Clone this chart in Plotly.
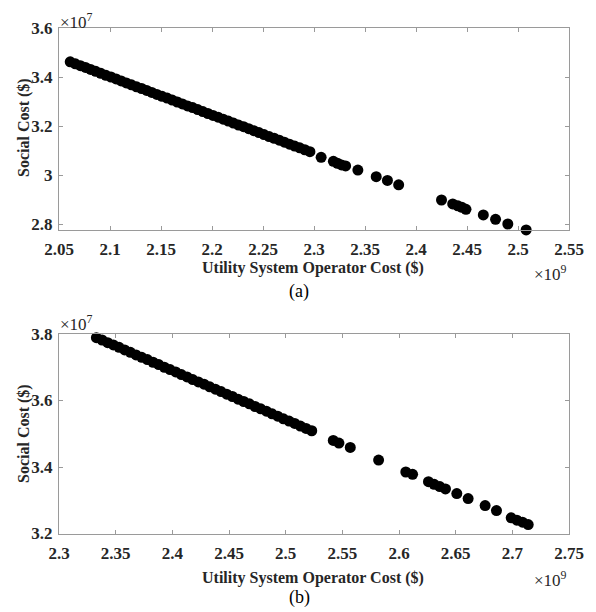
import plotly.graph_objects as go

# ---- Data (x in units of 1e9 $, y in units of 1e7 $) ----
# Panel (a)
a_x = [2.061, 2.066, 2.071, 2.076, 2.081, 2.086, 2.091, 2.096, 2.101, 2.106,
       2.111, 2.116, 2.121, 2.126, 2.131, 2.136, 2.141, 2.146, 2.151, 2.156,
       2.161, 2.166, 2.171, 2.176, 2.181, 2.186, 2.191, 2.196, 2.201, 2.206,
       2.211, 2.216, 2.221, 2.226, 2.231, 2.236, 2.241, 2.246, 2.251, 2.256,
       2.261, 2.266, 2.271, 2.276, 2.281, 2.286, 2.291, 2.296,
       2.307, 2.319, 2.323, 2.327, 2.331, 2.343, 2.361, 2.372, 2.383,
       2.425, 2.436, 2.441, 2.445, 2.449, 2.466, 2.478, 2.490, 2.508]
a_y = [3.462, 3.454, 3.446, 3.439, 3.431, 3.423, 3.415, 3.407, 3.400, 3.392,
       3.384, 3.376, 3.368, 3.360, 3.353, 3.345, 3.337, 3.329, 3.321, 3.314,
       3.306, 3.298, 3.290, 3.282, 3.275, 3.267, 3.259, 3.251, 3.243, 3.236,
       3.228, 3.220, 3.212, 3.204, 3.197, 3.189, 3.181, 3.173, 3.165, 3.157,
       3.150, 3.142, 3.134, 3.126, 3.118, 3.111, 3.103, 3.095,
       3.072, 3.056, 3.048, 3.041, 3.037, 3.020, 2.993, 2.978, 2.960,
       2.898, 2.882, 2.874, 2.868, 2.860, 2.837, 2.819, 2.800, 2.776]

# Panel (b)
b_x = [2.333, 2.338, 2.343, 2.348, 2.353, 2.358, 2.363, 2.368, 2.373, 2.378,
       2.383, 2.388, 2.393, 2.398, 2.403, 2.408, 2.413, 2.418, 2.423, 2.428,
       2.433, 2.438, 2.443, 2.448, 2.453, 2.458, 2.463, 2.468, 2.473, 2.478,
       2.483, 2.488, 2.493, 2.498, 2.503, 2.508, 2.513, 2.518, 2.523,
       2.542, 2.547, 2.557, 2.582, 2.606, 2.612, 2.626, 2.631, 2.636, 2.641,
       2.651, 2.661, 2.676, 2.686, 2.699, 2.704, 2.709, 2.714]
b_y = [3.789, 3.782, 3.774, 3.767, 3.760, 3.752, 3.745, 3.737, 3.730, 3.723,
       3.715, 3.708, 3.700, 3.693, 3.686, 3.678, 3.671, 3.663, 3.656, 3.649,
       3.641, 3.634, 3.627, 3.619, 3.612, 3.604, 3.597, 3.590, 3.582, 3.575,
       3.568, 3.560, 3.553, 3.545, 3.538, 3.531, 3.523, 3.516, 3.509,
       3.480, 3.472, 3.459, 3.421, 3.385, 3.378, 3.356, 3.348, 3.341, 3.334,
       3.320, 3.305, 3.284, 3.269, 3.247, 3.240, 3.234, 3.227]

a_xticks = [2.05, 2.1, 2.15, 2.2, 2.25, 2.3, 2.35, 2.4, 2.45, 2.5, 2.55]
a_xlabels = ["2.05", "2.1", "2.15", "2.2", "2.25", "2.3", "2.35", "2.4", "2.45", "2.5", "2.55"]
a_yticks = [2.8, 3.0, 3.2, 3.4, 3.6]
a_ylabels = ["2.8", "3", "3.2", "3.4", "3.6"]
b_xticks = [2.3, 2.35, 2.4, 2.45, 2.5, 2.55, 2.6, 2.65, 2.7, 2.75]
b_xlabels = ["2.3", "2.35", "2.4", "2.45", "2.5", "2.55", "2.6", "2.65", "2.7", "2.75"]
b_yticks = [3.2, 3.4, 3.6, 3.8]
b_ylabels = ["3.2", "3.4", "3.6", "3.8"]

x_title = "Utility System Operator Cost ($)"
y_title = "Social Cost ($)"

# page body has an 8px margin, so the figure is drawn 8px in from the top-left
OFF = 8
W, H = 596 - OFF, 612 - OFF
SERIF = "Liberation Serif, Times New Roman, serif"

fig = go.Figure()
fig.add_trace(go.Scatter(x=a_x, y=a_y, mode="markers", xaxis="x", yaxis="y",
                         marker=dict(color="black", size=11), cliponaxis=False,
                         showlegend=False))
fig.add_trace(go.Scatter(x=b_x, y=b_y, mode="markers", xaxis="x2", yaxis="y2",
                         marker=dict(color="black", size=11), cliponaxis=False,
                         showlegend=False))

def px(v):
    return (v - OFF) / W

def py(v):
    return 1 - (v - OFF) / H

axis_common = dict(
    showline=True, linecolor="#9a9a9a", linewidth=1, mirror="ticks",
    ticks="inside", ticklen=4, tickcolor="#9a9a9a", showgrid=False, zeroline=False,
    automargin=False,
    tickfont=dict(family=SERIF, size=17, color="#262626", weight="bold"),
)

fig.update_layout(
    template="none",
    width=W, height=H, paper_bgcolor="white", plot_bgcolor="white",
    margin=dict(l=0, r=0, t=0, b=0, pad=0),
    xaxis=dict(domain=[px(59), px(569)], range=[2.05, 2.55], anchor="y",
               tickvals=a_xticks, ticktext=a_xlabels, ticklabelstandoff=4, **axis_common),
    yaxis=dict(domain=[py(230), py(28)], range=[2.7755, 3.6], anchor="x",
               tickvals=a_yticks, ticktext=a_ylabels, ticklabelstandoff=2, **axis_common),
    xaxis2=dict(domain=[px(59), px(569)], range=[2.3, 2.75], anchor="y2",
                tickvals=b_xticks, ticktext=b_xlabels, ticklabelstandoff=4, **axis_common),
    yaxis2=dict(domain=[py(533.5), py(334)], range=[3.2, 3.8], anchor="x2",
                tickvals=b_yticks, ticktext=b_ylabels, ticklabelstandoff=2, **axis_common),
)

ann_font_b = dict(family=SERIF, size=16, color="#262626", weight="bold")
ann_font = dict(family=SERIF, size=17, color="#262626")
anns = []
for ytitle_c, xtitle_c, mult_top, mult_bot, cap_y, cap in [
        (128, 268, 21, 273, 291, "(a)"),
        (434, 578, 323, 579, 597, "(b)")]:
    anns.append(dict(text=x_title, x=px(313), y=py(xtitle_c), xref="paper", yref="paper",
                     showarrow=False, font=ann_font_b, xanchor="center", yanchor="middle"))
    anns.append(dict(text=y_title, x=px(24), y=py(ytitle_c), xref="paper", yref="paper",
                     showarrow=False, font=ann_font_b, textangle=-90,
                     xanchor="center", yanchor="middle"))
    anns.append(dict(text="×10<sup>7</sup>", x=px(58), y=py(mult_top), xref="paper", yref="paper",
                     showarrow=False, font=ann_font, xanchor="left", yanchor="middle"))
    anns.append(dict(text="×10<sup>9</sup>", x=px(569), y=py(mult_bot), xref="paper", yref="paper",
                     showarrow=False, font=ann_font, xanchor="right", yanchor="middle"))
    anns.append(dict(text=cap, x=px(299), y=py(cap_y), xref="paper", yref="paper",
                     showarrow=False, font=dict(family=SERIF, size=18, color="black"),
                     xanchor="center", yanchor="middle"))
fig.update_layout(annotations=anns)

fig.write_html("out.html")
